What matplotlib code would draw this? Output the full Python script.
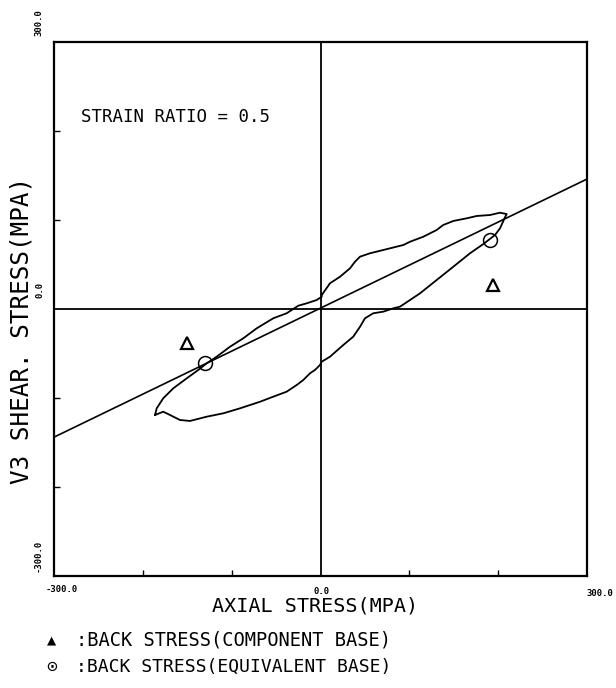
import numpy as np
import matplotlib.pyplot as plt

plt.rcParams['font.family'] = ['DejaVu Sans Mono', 'DejaVu Sans']

# hysteresis loop (axial stress, shear stress) in MPa
loop_x = [-186.3, -184.4, -177.0, -165.7, -150.6, -137.6, -128.1, -116.9, -101.9,
          -86.9, -71.8, -53.1, -38.1, -25.0, -15.5, -4.3, 1.4, 1.4, 10.7, 22.0,
          33.2, 38.8, 44.5, 55.7, 70.7, 93.2, 100.8, 115.7, 130.8, 138.2, 149.5,
          164.6, 175.8, 190.8, 202.1, 209.6,
          207.7, 202.1, 196.4, 183.3, 168.3, 149.5, 130.8, 112.0, 89.5, 82.0,
          70.7, 59.4, 50.1, 44.5, 36.9, 25.7, 10.7, 1.4, -0.6, -6.2, -11.8,
          -19.4, -26.8, -38.1, -53.1, -68.1, -90.6, -109.4, -128.1, -146.9,
          -158.2, -169.4, -177.0, -186.3]
loop_y = [-119.1, -111.6, -100.3, -89.1, -77.9, -68.5, -61.0, -53.6, -42.4,
          -32.9, -21.7, -10.4, -4.8, 3.7, 6.4, 10.1, 13.8, 15.7, 28.9, 36.3,
          45.7, 53.1, 58.8, 62.6, 66.3, 71.9, 75.6, 81.2, 88.8, 94.4, 98.9,
          101.9, 104.5, 105.6, 108.2, 106.7,
          103.0, 90.7, 83.1, 73.0, 62.6, 47.5, 32.6, 17.6, 2.6, 0.8,
          -3.0, -4.8, -10.4, -19.9, -31.1, -40.4, -53.6, -59.2, -62.9, -68.5, -72.2,
          -79.8, -85.4, -92.9, -98.5, -104.2, -111.6, -117.2, -121.0, -125.8,
          -124.7, -119.1, -115.4, -119.1]

# straight reference line
line_x = [-300, 300]
line_y = [-144, 146]

# back stress points
comp_x = [-150.6, 194.5]
comp_y = [-38.5, 27.0]
equiv_x = [-130.0, 190.8]
equiv_y = [-61.0, 77.5]

ticks = [-200, -100, 100, 200]

W, H = 616, 688
fig = plt.figure(figsize=(W / 100, H / 100), dpi=100)
ax = fig.add_axes([54 / W, 1 - 576 / H, 533 / W, 534 / H])

ax.axhline(0, color='black', lw=1.3, zorder=1)
ax.axvline(0, color='black', lw=1.3, zorder=1)
ax.plot(line_x, line_y, color='black', lw=1.2)
ax.plot(loop_x, loop_y, color='black', lw=1.3)
ax.plot(comp_x, comp_y, ls='none', marker='^', ms=8, mfc='none', mec='black', mew=1.6)
ax.plot(equiv_x, equiv_y, ls='none', marker='o', ms=10, mfc='none', mec='black', mew=1.1)

ax.set_xlim(-300, 300)
ax.set_ylim(-300, 300)
ax.set_xticks(ticks)
ax.set_yticks(ticks)
ax.tick_params(direction='in', length=4, width=1, labelleft=False, labelbottom=False,
               top=False, right=False)
for s in ax.spines.values():
    s.set_linewidth(1.6)

ax.text(0.05, 0.86, 'STRAIN RATIO = 0.5', transform=ax.transAxes, fontsize=12.5,
        va='center', ha='left')

def px(x, y):
    return x / W, 1 - y / H

# range labels
fig.text(*px(39, 23), '300.0', rotation=90, fontsize=6.5, weight='bold', ha='center', va='center')
fig.text(*px(38, 556), '-300.0', rotation=90, fontsize=6.5, weight='bold', ha='center', va='center')
fig.text(*px(40, 290), '0.0', rotation=90, fontsize=6.5, weight='bold', ha='center', va='center')
fig.text(*px(62, 590), '-300.0', fontsize=6.5, weight='bold', ha='center', va='center')
fig.text(*px(322, 591), '0.0', fontsize=6.5, weight='bold', ha='center', va='center')
fig.text(*px(600, 593), '300.0', fontsize=6.5, weight='bold', ha='center', va='center')

# axis titles
fig.text(*px(22, 330), 'V3 SHEAR. STRESS(MPA)', rotation=90, fontsize=17.5,
         ha='center', va='center')
fig.text(*px(315, 606), 'AXIAL STRESS(MPA)', fontsize=14.5, ha='center', va='center')

# legend
fig.text(*px(52, 640), '▲', fontsize=11, ha='center', va='center')
fig.text(*px(76, 640), ':BACK STRESS(COMPONENT BASE)', fontsize=13.5, ha='left', va='center')
fig.text(*px(52, 667), '⊙', fontsize=13, ha='center', va='center')
fig.text(*px(76, 667), ':BACK STRESS(EQUIVALENT BASE)', fontsize=13, ha='left', va='center')

fig.savefig('out.png', dpi=100)
